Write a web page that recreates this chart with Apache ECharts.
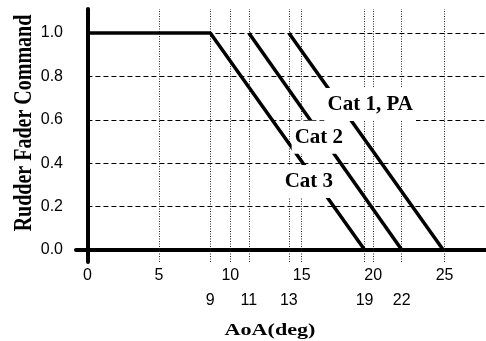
<!DOCTYPE html>
<html><head><meta charset="utf-8">
<script src="https://cdn.jsdelivr.net/npm/echarts@6/dist/echarts.min.js"></script>
<style>html,body{margin:0;padding:0;background:#fff}#c{width:486px;height:341px}</style>
</head><body><div id="c"></div>
<script>
// ---- data ----
const xTickValues = [0, 5, 10, 15, 20, 25];
const yTickValues = [0, 0.2, 0.4, 0.6, 0.8, 1.0];
const breakValues = [8.6, 11.3, 14.1, 19.4, 22.0];
const breakLabels = ['9', '11', '13', '19', '22'];
const seriesNames = ['Cat 3', 'Cat 2', 'Cat 1, PA'];
const cat3 = [[0, 1], [8.6, 1], [19.4, 0]];
const cat2 = [[11.3, 1], [22.0, 0]];
const cat1 = [[14.1, 1], [24.9, 0]];
const labelAnchors = [[15.5, 0.315], [16.2, 0.519], [19.8, 0.671]];
const xMin = -0.8, xMax = 27.9, yMin = -0.056, yMax = 1.111;

const chart = echarts.init(document.getElementById('c'), null, {renderer: 'canvas'});

const vLines = xTickValues.filter(v => v > 0).concat(breakValues).map(v => [
  {coord: [v, yMin]}, {coord: [v, yMax]}
]);
const hLines = yTickValues.filter(v => v > 0).map(v => [
  {coord: [0, v], lineStyle: {type: [5, 3], color: '#000', width: 1}},
  {coord: [xMax, v]}
]);

function markPointFor(i) {
  return {
    z: 10,
    symbol: 'rect',
    symbolSize: 0,
    silent: true,
    data: [{coord: labelAnchors[i], value: seriesNames[i]}],
    label: {
      show: true, position: 'inside', formatter: seriesNames[i],
      fontFamily: 'Liberation Serif', fontWeight: 'bold', fontSize: 21, color: '#000',
      backgroundColor: '#fff', padding: [7, 3, 5, 3]
    }
  };
}

const lineStyle = {color: '#000', width: 3.5};
const option = {
  animation: false,
  backgroundColor: '#fff',
  grid: {left: 76, right: 0, top: 9, bottom: 79, containLabel: false},
  xAxis: [{
    type: 'value', min: xMin, max: xMax,
    axisLine: {onZero: true, lineStyle: {color: '#000', width: 4}},
    axisTick: {show: false},
    splitLine: {show: false},
    axisLabel: {customValues: xTickValues, color: '#000', fontSize: 16, fontFamily: 'Liberation Sans', margin: 6}
  }, {
    type: 'value', min: xMin, max: xMax, position: 'bottom',
    axisLine: {show: false, onZero: false},
    axisTick: {show: false},
    splitLine: {show: false},
    axisLabel: {
      customValues: breakValues, color: '#000', fontSize: 16, fontFamily: 'Liberation Sans', margin: 31,
      formatter: v => breakLabels[breakValues.findIndex(b => Math.abs(b - v) < 1e-6)]
    }
  }],
  yAxis: [{
    type: 'value', min: yMin, max: yMax,
    axisLine: {onZero: true, lineStyle: {color: '#000', width: 4}},
    axisTick: {show: false},
    splitLine: {show: false},
    axisLabel: {customValues: yTickValues, color: '#000', fontSize: 16, fontFamily: 'Liberation Sans', margin: 13,
      formatter: v => v.toFixed(1)}
  }],
  series: [{
    name: seriesNames[0], type: 'line', data: cat3, symbol: 'none', z: 2, lineStyle: lineStyle,
    markLine: {
      z: 1, silent: true, symbol: ['none', 'none'], label: {show: false},
      lineStyle: {type: [1, 1.5], color: '#222', width: 1},
      data: vLines.concat(hLines)
    },
    markPoint: markPointFor(0)
  }, {
    name: seriesNames[1], type: 'line', data: cat2, symbol: 'none', z: 2, lineStyle: lineStyle,
    markPoint: markPointFor(1)
  }, {
    name: seriesNames[2], type: 'line', data: cat1, symbol: 'none', z: 2, lineStyle: lineStyle,
    markPoint: markPointFor(2)
  }],
  graphic: [{
    type: 'text', x: 270, y: 331, scaleX: 1.3, z: 20,
    style: {text: 'AoA(deg)', font: 'bold 17px "Liberation Serif"', fill: '#000', align: 'center', verticalAlign: 'middle'}
  }, {
    type: 'text', x: 24, y: 123, rotation: Math.PI / 2, scaleY: 1.3, z: 20,
    style: {text: 'Rudder Fader Command', font: 'bold 20px "Liberation Serif"', fill: '#000', align: 'center', verticalAlign: 'middle'}
  }]
};
chart.setOption(option);
</script>
</body></html>
